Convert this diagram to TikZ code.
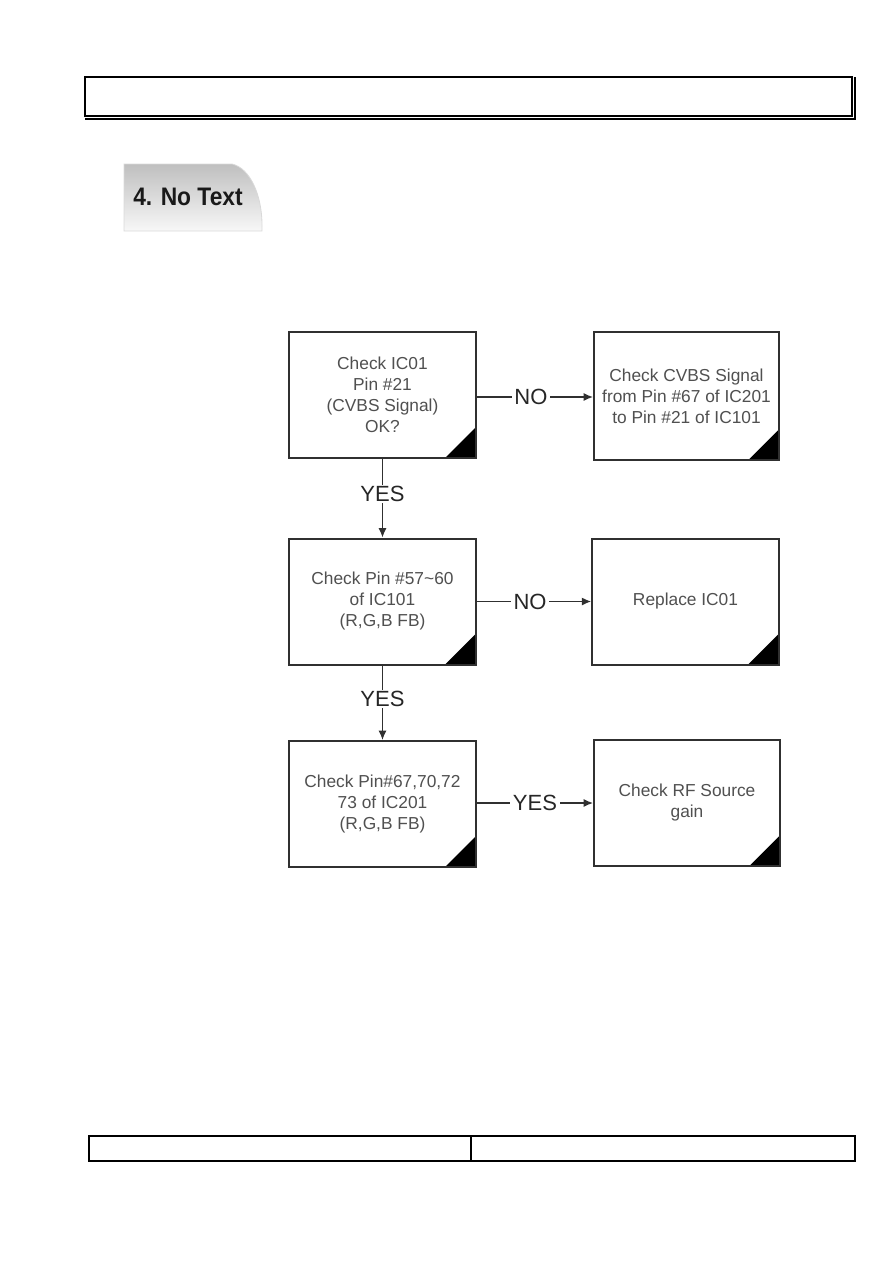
\documentclass[tikz,border=0pt]{standalone}
\usepackage{fontspec}
\setmainfont{Liberation Sans}
\usetikzlibrary{arrows.meta,calc}
\definecolor{txtgray}{HTML}{505050}
\definecolor{linegray}{HTML}{303030}
\tikzset{
  fbox/.style={draw=linegray, line width=1.5pt, fill=white, minimum width=140pt, minimum height=94.5pt,
    inner sep=0pt, align=center, text=txtgray, font=\fontsize{13pt}{15.75pt}\selectfont,
    path picture={\fill[black] ([xshift=-23pt]path picture bounding box.south east) -- (path picture bounding box.south east) -- ([yshift=23pt]path picture bounding box.south east) -- cycle;}},
  arr/.style={draw=linegray, line width=1pt, -{Latex[length=7pt,width=6pt]}},
  lbl/.style={fill=white, inner xsep=2pt, inner ysep=1pt, text=black!85, font=\fontsize{16.5pt}{18pt}\selectfont}
}
\begin{document}
\begin{tikzpicture}[x=0.75pt,y=-0.75pt]
\useasboundingbox (0,0) rectangle (893,1263);
% header
\draw[line width=1.6pt] (85,77) rectangle (852,116);
\draw[line width=0.8pt] (85,119) -- (855,119) -- (855,77);
% title tab
\shade[top color=black!25, bottom color=black!3, draw=black!15, line width=0.6pt]
  (124,164) -- (232,164) .. controls (250,168) and (262,195) .. (262,225) -- (262,231) -- (124,231) -- cycle;
\node[font=\bfseries\fontsize{19pt}{22pt}\selectfont, text=black!90, xscale=0.9, transform shape] (title) at (188,197) {4. No Text};
% boxes
\node[fbox] (b1) at (382.5,395) {Check IC01\\Pin \#21\\(CVBS Signal)\\OK?};
\node[fbox, minimum width=138.75pt, minimum height=96pt] (b2) at (686.5,396) {Check CVBS Signal\\from Pin \#67 of IC201\\to Pin \#21 of IC101};
\node[fbox] (b3) at (382.5,601.5) {Check Pin \#57\textasciitilde60\\of IC101\\(R,G,B FB)};
\node[fbox] (b4) at (685.5,601.5) {Replace IC01};
\node[fbox] (b5) at (382.5,804) {Check Pin\#67,70,72\\73 of IC201\\(R,G,B FB)};
\node[fbox, minimum width=139.5pt] (b6) at (687,803) {Check RF Source\\gain};
% connectors
\draw[arr] (b1.east |- 0,397) -- node[lbl, xshift=-3pt]{NO} (b2.west |- 0,397);
\draw[arr] (b3.east) -- node[lbl, xshift=-3pt]{NO} (b4.west |- b3.east);
\draw[arr] (b5.east |- 0,803) -- node[lbl]{YES} (b6.west |- 0,803);
\draw[arr] (b1.south) -- node[lbl, yshift=3pt]{YES} (b3.north);
\draw[arr] (b3.south) -- node[lbl, yshift=3pt]{YES} (b5.north);
% footer
\draw[line width=1pt] (89,1136) rectangle (855,1161);
\draw[line width=0.8pt] (471,1136) -- (471,1161);
\end{tikzpicture}
\end{document}
